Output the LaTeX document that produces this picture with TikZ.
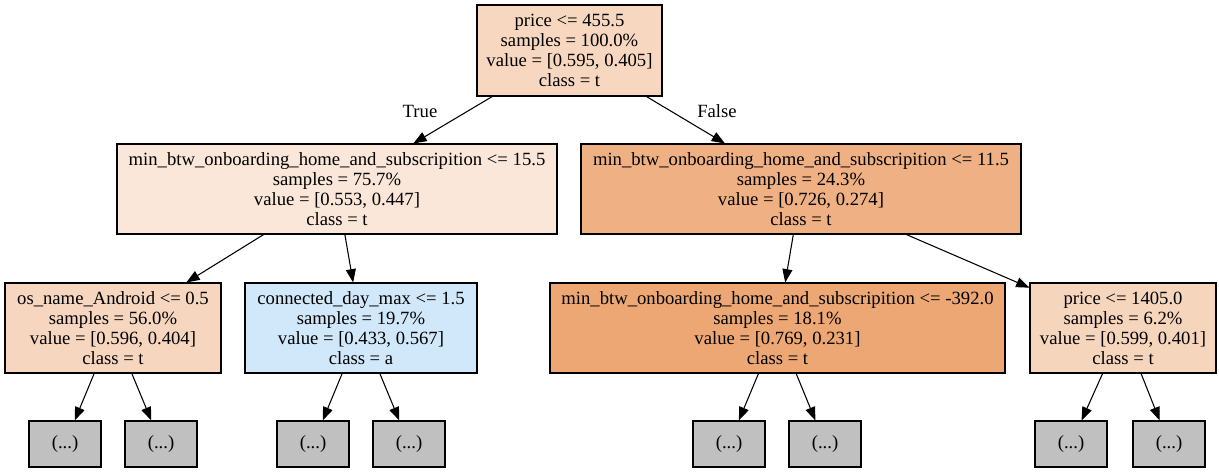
\documentclass[tikz,border=0pt]{standalone}
\usepackage{fontspec}
\setmainfont{Liberation Serif}
\usetikzlibrary{arrows.meta}
\definecolor{cRoot}{RGB}{247,215,192}
\definecolor{cLa}{RGB}{250,231,217}
\definecolor{cLb}{RGB}{239,176,132}
\definecolor{cOs}{RGB}{247,214,191}
\definecolor{cCon}{RGB}{208,232,249}
\definecolor{cMid}{RGB}{237,167,116}
\definecolor{cPr}{RGB}{246,213,189}
\definecolor{cLeaf}{RGB}{192,192,192}
\begin{document}
\begin{tikzpicture}[x=0.75pt,y=-0.75pt,
  box/.style={draw=black, line width=0.8pt, align=center, inner sep=0pt,
    font=\fontsize{14pt}{15pt}\selectfont, minimum height=90*0.75pt},
  leaf/.style={draw=black, line width=0.8pt, fill=cLeaf, inner sep=0pt,
    font=\fontsize{14pt}{15pt}\selectfont, minimum width=72*0.75pt, minimum height=46*0.75pt},
  edge/.style={line width=0.8pt, -{Triangle[length=10pt,width=7.5pt]}},
  elabel/.style={font=\fontsize{14pt}{15pt}\selectfont}]
\useasboundingbox[fill=white] (0,0) rectangle (1219,475);

\node[box, fill=cRoot, minimum width=185*0.75pt, minimum height=91*0.75pt] (root) at (569.5,50.5)
  {price <= 455.5\\samples = 100.0\%\\value = [0.595, 0.405]\\class = t};

\node[box, fill=cLa, minimum width=440*0.75pt] (la) at (337,189)
  {min\_btw\_onboarding\_home\_and\_subscripition <= 15.5\\samples = 75.7\%\\value = [0.553, 0.447]\\class = t};
\node[box, fill=cLb, minimum width=440*0.75pt] (lb) at (801,189)
  {min\_btw\_onboarding\_home\_and\_subscripition <= 11.5\\samples = 24.3\%\\value = [0.726, 0.274]\\class = t};

\node[box, fill=cOs, minimum width=216*0.75pt] (os) at (113,328)
  {os\_name\_Android <= 0.5\\samples = 56.0\%\\value = [0.596, 0.404]\\class = t};
\node[box, fill=cCon, minimum width=232*0.75pt] (con) at (361,328)
  {connected\_day\_max <= 1.5\\samples = 19.7\%\\value = [0.433, 0.567]\\class = a};
\node[box, fill=cMid, minimum width=455*0.75pt] (mid) at (777.5,328)
  {min\_btw\_onboarding\_home\_and\_subscripition <= -392.0\\samples = 18.1\%\\value = [0.769, 0.231]\\class = t};
\node[box, fill=cPr, minimum width=186*0.75pt] (pr) at (1123,328)
  {price <= 1405.0\\samples = 6.2\%\\value = [0.599, 0.401]\\class = t};

\node[leaf] (k1) at (65,444) {(...)};
\node[leaf] (k2) at (161,444) {(...)};
\node[leaf] (k3) at (313,444) {(...)};
\node[leaf] (k4) at (409,444) {(...)};
\node[leaf] (k5) at (729,444) {(...)};
\node[leaf] (k6) at (825,444) {(...)};
\node[leaf] (k7) at (1071,444) {(...)};
\node[leaf] (k8) at (1169,444) {(...)};

\draw[edge] (root) -- (la);
\draw[edge] (root) -- (lb);
\draw[edge] (la) -- (os);
\draw[edge] (la) -- (con);
\draw[edge] (lb) -- (mid);
\draw[edge] (lb) -- (pr);
\draw[edge] (os) -- (k1);
\draw[edge] (os) -- (k2);
\draw[edge] (con) -- (k3);
\draw[edge] (con) -- (k4);
\draw[edge] (mid) -- (k5);
\draw[edge] (mid) -- (k6);
\draw[edge] (pr) -- (k7);
\draw[edge] (pr) -- (k8);

\node[elabel] (tl) at (420,111) {True};
\node[elabel] (fl) at (717,111) {False};
\end{tikzpicture}
\end{document}
